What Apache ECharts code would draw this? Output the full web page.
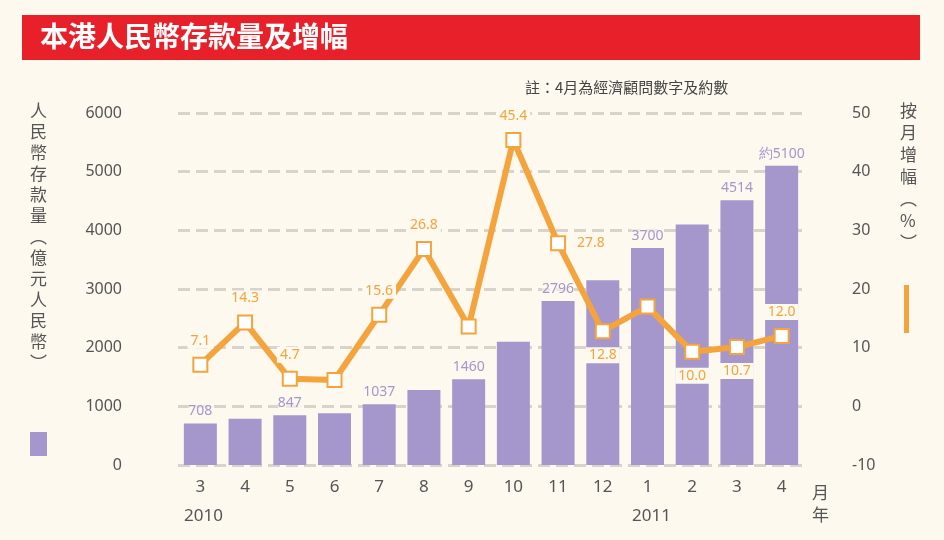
<!DOCTYPE html>
<html>
<head>
<meta charset="utf-8">
<script src="https://cdn.jsdelivr.net/npm/echarts@6/dist/echarts.min.js"></script>
<style>
html,body{margin:0;padding:0;background:#fdf9ef;}
#chart{width:944px;height:540px;}
</style>
</head>
<body>
<div id="chart"></div>
<script>
// 月份
var months = ['3','4','5','6','7','8','9','10','11','12','1','2','3','4'];
// 存款量（億元人民幣）
var deposits = [708, 790, 847, 880, 1037, 1280, 1460, 2100, 2796, 3150, 3700, 4100, 4514, 5100];
var depositLabels = ['708','','847','','1037','','1460','','2796','','3700','','4514','約5100'];
// 按月增幅（%）
var growth = [7.1, 14.3, 4.7, 4.5, 15.6, 26.8, 13.6, 45.4, 27.8, 12.8, 17.0, 9.3, 10.1, 12.0];
var growthLabels = ['7.1','14.3','4.7','','15.6','26.8','','45.4','27.8','12.8','','10.0','10.7','12.0'];
var growthLabelPos = ['top','top','top','top','top','top','top','top','right','bottom','top','bottom','bottom','top'];

var purple = '#a596cc';
var orange = '#f5a33c';
var grey = '#555';

var chart = echarts.init(document.getElementById('chart'));

var lineData = growth.map(function (v, i) {
    return {
        value: v,
        label: {show: growthLabels[i] !== '', formatter: growthLabels[i], position: growthLabelPos[i]}
    };
});
var barData = deposits.map(function (v, i) {
    return {
        value: v,
        label: {show: depositLabels[i] !== '', formatter: depositLabels[i]}
    };
});

option = {
    backgroundColor: '#fdf9ef',
    animation: false,
    grid: {left: 178, right: 140, top: 113, bottom: 75},
    graphic: [
        {type: 'rect', shape: {x: 22, y: 15, width: 898, height: 45}, style: {fill: '#e8202a'}},
        {type: 'text', left: 40, top: 22, style: {text: '本港人民幣存款量及增幅', fill: '#fff', font: 'bold 28px "Noto Sans CJK TC"'}},
        {type: 'text', left: 525, top: 80, style: {text: '註：4月為經濟顧問數字及約數', fill: '#444', font: '15px "Noto Sans CJK TC"'}},
        {type: 'text', left: 30, top: 100, style: {text: '人\n民\n幣\n存\n款\n量\n︵\n億\n元\n人\n民\n幣\n︶', fill: grey, font: '17px "Noto Sans CJK TC"', lineHeight: 21}},
        {type: 'rect', shape: {x: 30, y: 432, width: 17, height: 24}, style: {fill: purple}},
        {type: 'text', left: 900, top: 100, style: {text: '按\n月\n增\n幅\n︵\n%\n︶', fill: grey, font: '17px "Noto Sans CJK TC"', lineHeight: 22}},
        {type: 'rect', shape: {x: 904, y: 285, width: 5, height: 48}, style: {fill: orange}},
        {type: 'text', left: 812, top: 482, style: {text: '月\n年', fill: grey, font: '17px "Noto Sans CJK TC"', lineHeight: 22}},
        {type: 'text', left: 184, top: 508, style: {text: '2010', fill: grey, font: '17px "Noto Sans"'}},
        {type: 'text', left: 632, top: 508, style: {text: '2011', fill: grey, font: '17px "Noto Sans"'}}
    ],
    xAxis: {
        type: 'category',
        data: months,
        axisLine: {show: false},
        axisTick: {show: false},
        axisLabel: {color: grey, fontSize: 17, margin: 14, fontFamily: 'Noto Sans'}
    },
    yAxis: [{
        type: 'value', min: 0, max: 6000, interval: 1000,
        position: 'left', offset: 48,
        axisLabel: {color: grey, fontSize: 16, fontFamily: 'Noto Sans', formatter: function (v) { return String(v); }},
        splitLine: {lineStyle: {color: '#d8d4cc', type: 'dashed', width: 3}}
    }, {
        type: 'value', min: -10, max: 50, interval: 10,
        position: 'right', offset: 40,
        axisLabel: {color: grey, fontSize: 16, fontFamily: 'Noto Sans'},
        splitLine: {show: false}
    }],
    series: [{
        type: 'bar',
        data: barData,
        barWidth: 33,
        itemStyle: {color: purple},
        label: {position: 'top', color: purple, fontSize: 14, fontFamily: 'Noto Sans', backgroundColor: 'rgba(253,249,239,0.6)'}
    }, {
        type: 'line',
        yAxisIndex: 1,
        data: lineData,
        symbol: 'rect',
        symbolSize: 14,
        lineStyle: {color: orange, width: 6},
        itemStyle: {color: '#fff', borderColor: orange, borderWidth: 2},
        label: {color: orange, fontSize: 14, fontFamily: 'Noto Sans', distance: 8,
            backgroundColor: '#fdf9ef', padding: [1, 3]}
    }]
};
chart.setOption(option);
</script>
</body>
</html>
